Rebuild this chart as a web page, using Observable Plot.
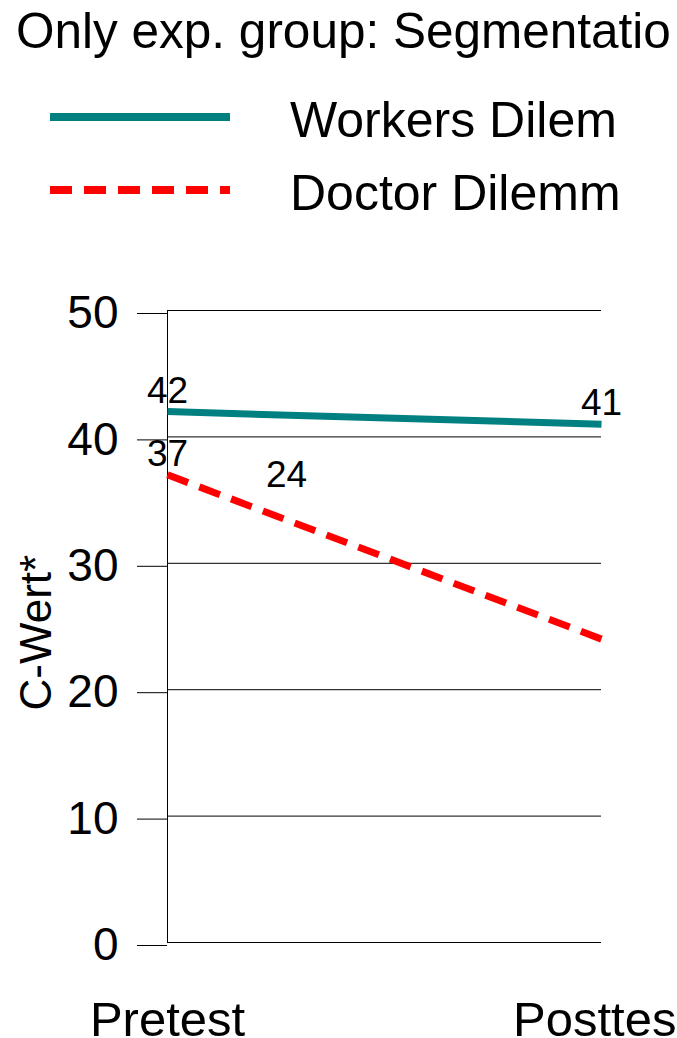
<!DOCTYPE html>
<html><head><meta charset="utf-8">
<script src="https://cdn.jsdelivr.net/npm/d3@7"></script>
<script src="https://cdn.jsdelivr.net/npm/@observablehq/plot@0.6"></script>
<style>
html,body{margin:0;padding:0;background:#fff;width:677px;height:1038px;overflow:hidden;font-family:"Liberation Sans",Arial,sans-serif;}
#header{position:absolute;left:0;top:0;width:677px;height:250px;}
#chart{position:absolute;left:0;top:250px;}
</style></head><body>
<div id="header"></div><div id="chart"></div>
<script>
const title = "Only exp. group: Segmentatio";
const phases = ["Pretest", "Posttest"];
const seriesNames = ["Workers Dilem", "Doctor Dilemm"];
const workersValues = [42, 41];
const doctorValues = [37, 24];
const yTicks = [0, 10, 20, 30, 40, 50];
const yLabel = "C-Wert*";
const colors = ["#008080", "#ff0000"];
const dashes = ["none", "22,12"];

// header: title + legend
const hdr = d3.select("#header").append("svg").attr("width", 677).attr("height", 250)
  .style("font-family", "'Liberation Sans', Arial, sans-serif");
hdr.append("text").attr("x", 16).attr("y", 48).attr("font-size", 49.5).attr("fill", "#000").text(title);
seriesNames.forEach((name, i) => {
  const cy = 117 + i * 73;
  hdr.append("line").attr("x1", 50).attr("x2", 230).attr("y1", cy).attr("y2", cy)
    .attr("stroke", colors[i]).attr("stroke-width", 8).attr("stroke-dasharray", dashes[i]);
  hdr.append("text").attr("x", 290).attr("y", cy + 20).attr("font-size", 50).attr("fill", "#000").text(name);
});

const data = [];
phases.forEach((p, i) => data.push({phase: p, value: workersValues[i], series: seriesNames[0]}));
phases.forEach((p, i) => data.push({phase: p, value: doctorValues[i], series: seriesNames[1]}));
const workers = data.filter(d => d.series === seriesNames[0]);
const doctor = data.filter(d => d.series === seriesNames[1]);

const chart = Plot.plot({
  width: 677, height: 788,
  marginTop: 60, marginBottom: 96, marginLeft: 167, marginRight: 76,
  style: {fontFamily: "'Liberation Sans', Arial, sans-serif", color: "#000", background: "transparent", overflow: "visible"},
  x: {type: "point", domain: phases, padding: 0},
  y: {domain: [0, 50]},
  marks: [
    Plot.gridY(yTicks, {stroke: "#000", strokeOpacity: 1, strokeWidth: 1}),
    Plot.axisY(yTicks, {tickSize: 30, tickPadding: 19, fontSize: 46, label: null, dy: 3}),
    Plot.ruleX([phases[0]], {stroke: "#000", strokeWidth: 1}),
    Plot.axisX({tickSize: 0, tickPadding: 59, fontSize: 49, label: null}),
    Plot.line(workers, {x: "phase", y: "value", stroke: colors[0], strokeWidth: 7, strokeLinecap: "butt"}),
    Plot.line(doctor, {x: "phase", y: "value", stroke: colors[1], strokeWidth: 7, strokeLinecap: "butt", strokeDasharray: dashes[1]}),
    Plot.text(workers, {x: "phase", y: "value", text: d => String(d.value), lineAnchor: "bottom", dy: -9, fontSize: 37, fill: "#000"}),
    Plot.text([doctor[0]], {x: "phase", y: "value", text: d => String(d.value), lineAnchor: "bottom", dy: -9, fontSize: 37, fill: "#000"}),
    Plot.text([doctor[1]], {x: "phase", y: "value", text: d => String(d.value), lineAnchor: "bottom", dx: -315, dy: -152, fontSize: 37, fill: "#000"}),
    Plot.text([yLabel], {frameAnchor: "left", rotate: -90, text: d => d, lineAnchor: "middle", dx: -131, dy: 84, fontSize: 44, fill: "#000"})
  ]
});
document.getElementById("chart").appendChild(chart);
</script>
</body></html>
